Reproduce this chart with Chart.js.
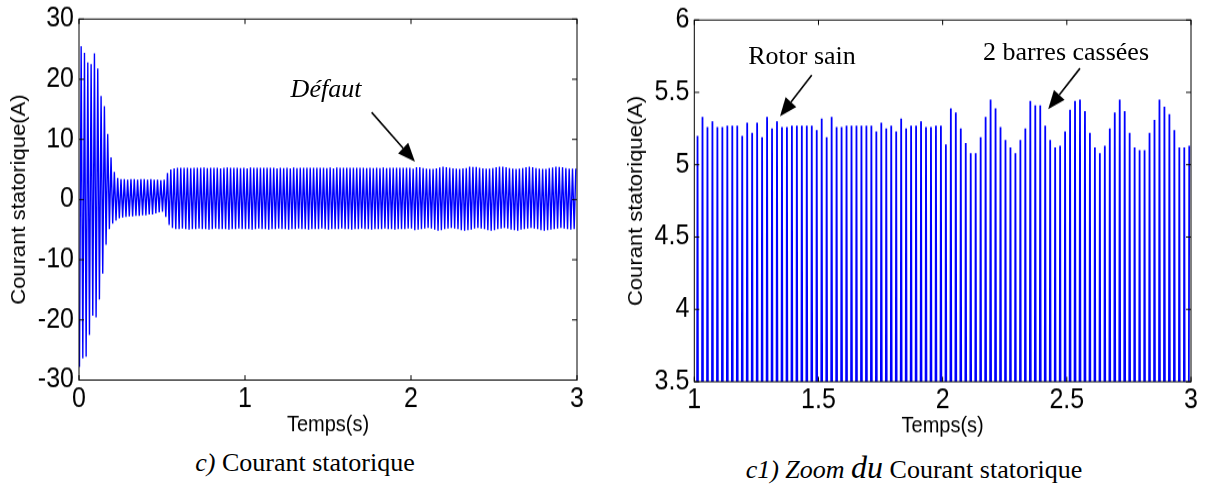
<!DOCTYPE html>
<html>
<head>
<meta charset="utf-8">
<script src="https://cdn.jsdelivr.net/npm/chart.js@4.4.1/dist/chart.umd.min.js"></script>
<style>
  html, body { margin: 0; padding: 0; background: #fff; }
  body { width: 1207px; height: 486px; position: relative; overflow: hidden; }
  /* la figure d'origine est etiree verticalement (~1.1) */
  canvas { position: absolute; top: 0; transform: scaleY(1.1); transform-origin: 0 0; }
  #courant { left: 0; }
  #zoom { left: 600px; }
  .note { position: absolute; font-family: "Liberation Serif", "Times New Roman", serif;
          font-size: 26px; line-height: 1; white-space: nowrap; text-align: center; color: #000; }
</style>
</head>
<body>
<canvas id="courant" width="600" height="407"></canvas>
<canvas id="zoom" width="607" height="407"></canvas>

<div class="note" style="left:226px;top:76px;width:200px;font-style:italic">Défaut</div>
<div class="note" style="left:702px;top:43px;width:200px">Rotor sain</div>
<div class="note" style="left:946px;top:39px;width:240px">2 barres cassées</div>
<div class="note" style="left:155px;top:450px;width:300px"><i>c)</i> Courant statorique</div>
<div class="note" style="left:714px;top:451px;width:400px"><i>c1) Zoom <span style="font-size:32px">du</span></i> Courant statorique</div>

<script>
/* -----------------------------
   DONNEES
   une crete min et une crete max par periode de 50 Hz, 0 a 3 s
----------------------------- */
const t0 = 0.003;
const periode = 0.02;

const cretesMin = [
    -27.8, -26.4, -26.1, -22.5, -19.3, -19.6, -16.6, -12.3, -7.5, -4.9,
    -4.0, -3.5, -3.1, -3.0, -2.9, -2.8, -2.8, -2.7, -2.7, -2.6,
    -2.6, -2.5, -2.5, -2.3, -2.1, -2.0, -2.9, -4.2, -4.7,
    -4.9, -4.9, -4.8, -4.9, -5.0, -4.9, -4.9, -4.8, -4.9, -4.9,
    -5.0, -4.9, -4.8, -4.9, -4.9, -4.9, -5.0, -4.9, -4.9, -4.8, -4.9,
    -4.9, -4.9, -5.0, -4.9, -4.8, -4.9, -4.9, -5.0, -4.9, -4.9,
    -4.8, -4.9, -4.9, -5.0, -4.9, -4.9, -4.8, -4.9, -4.9, -5.0,
    -4.9, -4.9, -4.9, -4.8, -4.9, -5.0, -4.9, -4.9, -4.9, -4.8,
    -4.9, -4.9, -5.0, -4.9, -4.9, -4.8, -4.9, -4.9, -5.0, -4.9,
    -4.9, -4.9, -4.8, -4.9, -4.9, -5.0, -4.9, -4.9, -4.9, -4.8,
    -4.8, -5.1, -5.0, -4.9, -4.8, -4.7, -4.8, -5.0, -5.2, -5.1,
    -4.9, -4.8, -4.7, -4.8, -4.9, -5.1, -5.2, -5.1, -5.0, -4.8,
    -4.7, -4.8, -4.9, -5.1, -5.2, -5.1, -4.9, -4.8, -4.7, -4.8,
    -5.0, -5.1, -5.2, -5.0, -4.9, -4.8, -4.7, -4.8, -4.9, -5.1,
    -5.2, -5.1, -5.0, -4.9, -4.8, -4.7, -4.8, -4.9, -5.0, -4.9
];

const cretesMax = [
    25.5, 24.4, 22.8, 22.5, 24.3, 21.8, 17.2, 15.5, 10.9, 7.0,
    4.6, 3.6, 3.4, 3.4, 3.3, 3.4, 3.4, 3.3, 3.4, 3.4,
    3.3, 3.4, 3.3, 3.3, 3.2, 3.3, 4.4, 5.0, 5.2,
    5.27, 5.30, 5.26, 5.27, 5.22, 5.29, 5.27, 5.27, 5.31, 5.24,
    5.27, 5.27, 5.29, 5.20, 5.27, 5.33, 5.26, 5.27, 5.27, 5.24, 5.30,
    // 1 s -> 3 s (zoom)
    5.20, 5.33, 5.26, 5.30, 5.26, 5.26, 5.27, 5.27, 5.27, 5.20,
    5.29, 5.22, 5.29, 5.19, 5.33, 5.25, 5.30, 5.26, 5.26, 5.27,
    5.27, 5.27, 5.27, 5.27, 5.24, 5.32, 5.19, 5.33, 5.26, 5.26,
    5.27, 5.27, 5.27,
    5.27, 5.27, 5.27, 5.23, 5.29, 5.25, 5.27, 5.23, 5.32, 5.25,
    5.27, 5.27, 5.30, 5.26, 5.26, 5.27, 5.27, 5.14, 5.39, 5.36,
    5.25, 5.15, 5.08, 5.08, 5.19, 5.33, 5.45, 5.39, 5.26, 5.17,
    5.12, 5.08, 5.17,
    5.25, 5.44, 5.41, 5.41, 5.27, 5.17, 5.12, 5.13, 5.23, 5.38,
    5.44, 5.45, 5.37, 5.22, 5.12, 5.08, 5.13, 5.25, 5.36, 5.45,
    5.37, 5.22, 5.12, 5.10, 5.10, 5.22, 5.31, 5.45, 5.40, 5.35,
    5.24, 5.12, 5.12, 5.13
];

const ticksTempsC = [0, 1, 2, 3];
const ticksCourantC = [-30, -20, -10, 0, 10, 20, 30];
const ticksTempsZoom = [1, 1.5, 2, 2.5, 3];
const ticksCourantZoom = [3.5, 4, 4.5, 5, 5.5, 6];
const etiquettesTempsZoom = ["1", "1.5", "2", "2.5", "3"];
const etiquettesCourantZoom = ["3.5", "4", "4.5", "5", "5.5", "6"];

/* -----------------------------
   SERIE EN ZIGZAG
----------------------------- */
function construireSerie() {
    const pts = [];
    for (let k = 0; k < cretesMax.length; k++) {
        const t = t0 + k * periode;
        pts.push({ x: t, y: cretesMin[k] });
        pts.push({ x: t + periode / 2, y: cretesMax[k] });
    }
    return pts;
}

/* -----------------------------
   CADRE + GRADUATIONS INTERNES + FLECHES
----------------------------- */
const cadreMatlab = {
    id: "cadreMatlab",
    afterDraw(chart, args, opts) {
        const { ctx, chartArea: a, scales: { x, y } } = chart;
        ctx.save();
        ctx.strokeStyle = "#000";
        ctx.lineWidth = 1;
        ctx.strokeRect(a.left, a.top, a.right - a.left, a.bottom - a.top);

        ctx.beginPath();
        opts.ticksX.forEach(v => {
            const px = x.getPixelForValue(v);
            ctx.moveTo(px, a.bottom); ctx.lineTo(px, a.bottom - 4.5);
            ctx.moveTo(px, a.top); ctx.lineTo(px, a.top + 4.5);
        });
        opts.ticksY.forEach(v => {
            const py = y.getPixelForValue(v);
            ctx.moveTo(a.left, py); ctx.lineTo(a.left + 5, py);
            ctx.moveTo(a.right, py); ctx.lineTo(a.right - 5, py);
        });
        ctx.stroke();

        (opts.fleches || []).forEach(f => {
            const x1 = x.getPixelForValue(f.de[0]), y1 = y.getPixelForValue(f.de[1]);
            const x2 = x.getPixelForValue(f.a[0]), y2 = y.getPixelForValue(f.a[1]);
            const ang = Math.atan2(y2 - y1, x2 - x1);
            const L = 17, W = 7;
            const bx = x2 - L * Math.cos(ang), by = y2 - L * Math.sin(ang);
            ctx.lineWidth = 1.6;
            ctx.beginPath();
            ctx.moveTo(x1, y1);
            ctx.lineTo(bx, by);
            ctx.stroke();
            ctx.fillStyle = "#000";
            ctx.beginPath();
            ctx.moveTo(x2, y2);
            ctx.lineTo(bx + W * Math.sin(ang), by - W * Math.cos(ang));
            ctx.lineTo(bx - W * Math.sin(ang), by + W * Math.cos(ang));
            ctx.closePath();
            ctx.fill();
        });
        ctx.restore();
    }
};

Chart.defaults.color = "#000";
Chart.defaults.font.family = "'Liberation Sans', Arial, sans-serif";

function creerGraphique(id, reglages) {
    const etiquette = liste => liste ? (v, i) => liste[i] : v => String(v);
    return new Chart(document.getElementById(id), {
        type: "scatter",
        data: {
            datasets: [{
                data: construireSerie(),
                showLine: true,
                borderColor: "#0000ff",
                borderWidth: reglages.epaisseur,
                pointRadius: 0,
                pointHoverRadius: 0
            }]
        },
        options: {
            responsive: false,
            animation: false,
            events: [],
            layout: { padding: reglages.padding },
            plugins: {
                legend: { display: false },
                tooltip: { enabled: false },
                cadreMatlab: {
                    ticksX: reglages.ticksX,
                    ticksY: reglages.ticksY,
                    fleches: reglages.fleches
                }
            },
            scales: {
                x: {
                    type: "linear",
                    min: reglages.xMin, max: reglages.xMax,
                    afterBuildTicks: s => { s.ticks = reglages.ticksX.map(v => ({ value: v })); },
                    afterFit: s => { s.height = reglages.hauteurX; s.paddingLeft = 0; s.paddingRight = 0; },
                    grid: { display: false, drawTicks: false },
                    border: { display: false },
                    ticks: {
                        padding: 2.5, font: { size: 25 }, maxRotation: 0, autoSkip: false,
                        callback: etiquette(reglages.etiquettesX)
                    },
                    title: {
                        display: true, text: "Temps(s)",
                        font: { size: 20 },
                        padding: { top: 0, bottom: reglages.padTitreX }
                    }
                },
                y: {
                    type: "linear",
                    min: reglages.yMin, max: reglages.yMax,
                    afterBuildTicks: s => { s.ticks = reglages.ticksY.map(v => ({ value: v })); },
                    afterFit: s => { s.width = reglages.largeurY; s.paddingTop = 0; s.paddingBottom = 0; },
                    grid: { display: false, drawTicks: false },
                    border: { display: false },
                    ticks: {
                        padding: 5, font: { size: 25 }, autoSkip: false,
                        callback: etiquette(reglages.etiquettesY)
                    },
                    title: {
                        display: true, text: "Courant statorique(A)",
                        font: { size: 20 },
                        padding: { top: reglages.padTitreY, bottom: 0 }
                    }
                }
            }
        },
        plugins: [cadreMatlab]
    });
}

/* -----------------------------
   c) Courant statorique
----------------------------- */
creerGraphique("courant", {
    xMin: 0, xMax: 3, yMin: -30, yMax: 30,
    ticksX: ticksTempsC, ticksY: ticksCourantC,
    epaisseur: 1.4,
    padding: { top: 17.3, right: 23, left: 0, bottom: 0 },
    largeurY: 79, hauteurX: 61.5,
    padTitreX: 8.6, padTitreY: 7.8,
    fleches: [{ de: [1.763, 14.5], a: [2.024, 6.3] }]
});

/* -----------------------------
   c1) Zoom du courant statorique
----------------------------- */
creerGraphique("zoom", {
    xMin: 1, xMax: 3, yMin: 3.5, yMax: 6,
    ticksX: ticksTempsZoom, ticksY: ticksCourantZoom,
    etiquettesX: etiquettesTempsZoom, etiquettesY: etiquettesCourantZoom,
    epaisseur: 1.8,
    padding: { top: 18.2, right: 16, left: 0, bottom: 0 },
    largeurY: 94.3, hauteurX: 60,
    padTitreX: 7.7, padTitreY: 24.4,
    fleches: [
        { de: [1.473, 5.62], a: [1.345, 5.335] },
        { de: [2.553, 5.666], a: [2.425, 5.384] }
    ]
});
</script>
</body>
</html>
